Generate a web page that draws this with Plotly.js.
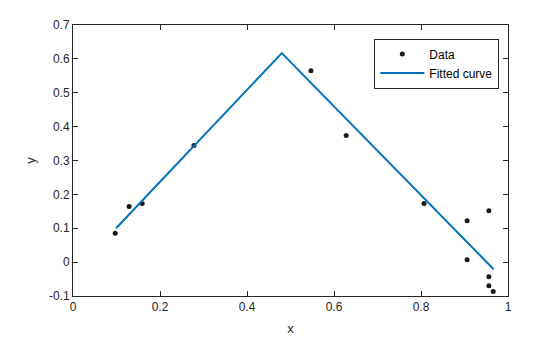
<!DOCTYPE html>
<html><head><meta charset="utf-8">
<script src="https://cdn.plot.ly/plotly-3.0.1.min.js"></script>
<style>body{margin:0;background:#fff}#chart{width:560px;height:337px}</style>
</head><body><div id="chart"></div>
<script>
const dataX = [0.097, 0.129, 0.159, 0.278, 0.547, 0.628, 0.807, 0.906, 0.906, 0.956, 0.956, 0.956, 0.966];
const dataY = [0.085, 0.164, 0.173, 0.344, 0.565, 0.374, 0.173, 0.122, 0.007, 0.152, -0.043, -0.070, -0.087];
const fitX = [0.099, 0.480, 0.967];
const fitY = [0.100, 0.617, -0.021];
const xTicks = [0, 0.2, 0.4, 0.6, 0.8, 1];
const yTicks = [-0.1, 0, 0.1, 0.2, 0.3, 0.4, 0.5, 0.6, 0.7];

const axisCommon = {
  showgrid: false, zeroline: false, showline: true, mirror: 'ticks',
  linecolor: '#262626', linewidth: 1, ticks: 'inside', ticklen: 5, tickcolor: '#262626',
  tickfont: {family: 'Liberation Sans, Arial, sans-serif', size: 12, color: '#262626'}
};
Plotly.newPlot('chart', [
  {x: dataX, y: dataY, mode: 'markers', type: 'scatter', name: 'Data',
   marker: {color: '#1a1a1a', size: 5}},
  {x: fitX, y: fitY, mode: 'lines', type: 'scatter', name: 'Fitted curve',
   line: {color: '#0072BD', width: 2}}
], {
  width: 560, height: 337,
  margin: {l: 73, r: 52, t: 25, b: 41},
  paper_bgcolor: '#fff', plot_bgcolor: '#fff',
  font: {family: 'Liberation Sans, Arial, sans-serif', color: '#262626'},
  xaxis: Object.assign({}, axisCommon, {range: [0, 1], tickvals: xTicks, ticktext: xTicks.map(String),
    title: {text: 'x', font: {size: 13, color: '#262626'}, standoff: 10}}),
  yaxis: Object.assign({}, axisCommon, {range: [-0.1, 0.7], tickvals: yTicks, ticktext: yTicks.map(v => String(Math.round(v*10)/10)),
    title: {text: 'y', font: {size: 13, color: '#262626'}, standoff: 10}}),
  legend: {x: 0.98, y: 0.95, xanchor: 'right', yanchor: 'top', bgcolor: '#fff',
    bordercolor: '#262626', borderwidth: 1, font: {size: 12, color: '#000'},
    tracegroupgap: 0, itemwidth: 44},
  showlegend: true
}, {displayModeBar: false, staticPlot: true});
</script></body></html>
